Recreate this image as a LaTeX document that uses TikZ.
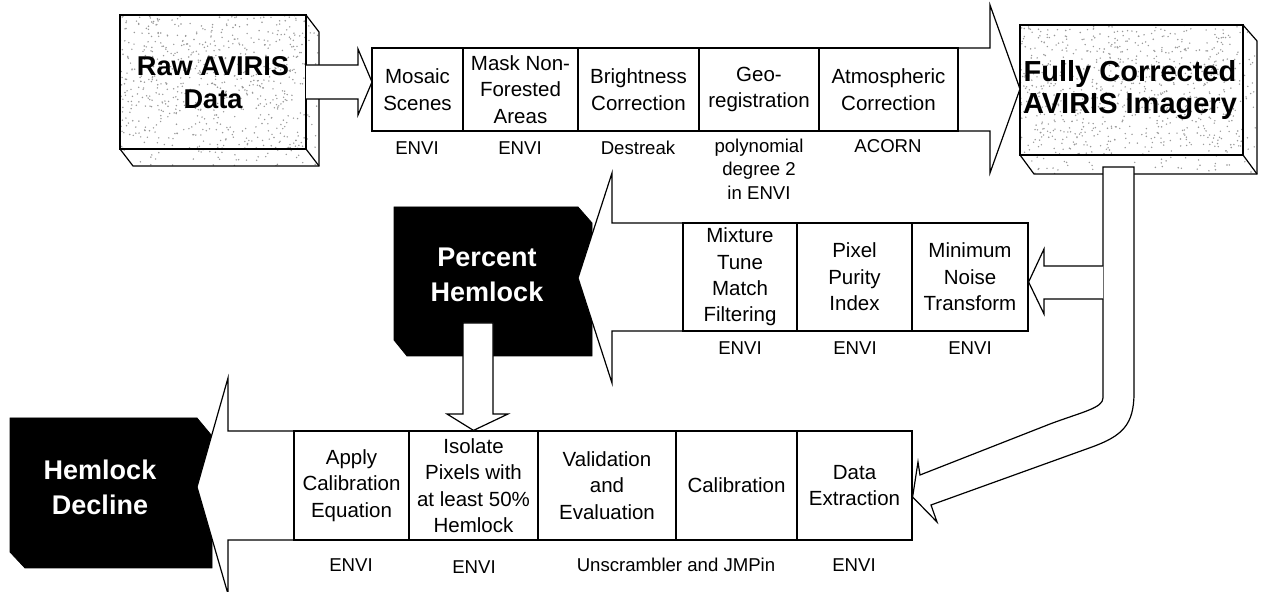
\documentclass[tikz,border=0pt]{standalone}
\usepackage{fontspec}
\setmainfont{Liberation Sans}
\newcommand\boxfont{\fontsize{10.25}{13.2}\selectfont}
\newcommand\labfont{\fontsize{9.3}{11.8}\selectfont}
\newcommand\rawfont{\bfseries\fontsize{13.6}{16.5}\selectfont}
\newcommand\fullfont{\bfseries\fontsize{14.5}{15.8}\selectfont}
\newcommand\wfont{\bfseries\fontsize{13.5}{17.5}\selectfont}
\tikzset{
  outl/.style={draw=black, line width=0.6pt, line join=miter},
  barrow/.style={outl, fill=white},
  proc/.style={draw=black, line width=0.6pt, fill=white, inner sep=0pt, align=center, font=\boxfont},
  lab/.style={inner sep=0pt, align=center, font=\labfont},
  blk/.style={fill=black, draw=black},
  wtxt/.style={text=white, align=center, font=\wfont, inner sep=0pt},
  speckdot/.style={fill=gray!80},
}
\newcommand\procnode[6]{%
  \pgfmathsetmacro\bw{(#3-#2)*0.5}%
  \pgfmathsetmacro\bh{(#5-#4)*0.5}%
  \node[proc, minimum width=\bw pt, minimum height=\bh pt] (#1) at ({(#2+#3)/2},{(#4+#5)/2}) {#6};}
\newcommand\speck[5]{%
  \foreach \i in {1,...,#5}{\fill[speckdot] ({#1+#3*rnd},{#2+#4*rnd}) circle (0.8);}}
\begin{document}
\begin{tikzpicture}[x=0.5pt,y=-0.5pt]
\pgfmathsetseed{11}
\useasboundingbox (0,0) rectangle (1265,592);

% ---------- Raw AVIRIS Data (3D box) ----------
\fill[white] (120,15) -- (306,15) -- (319,32) -- (319,166) -- (133,166) -- (120,149) -- cycle;
\begin{scope}
  \clip (120,15) rectangle (306,149);
  \speck{120}{15}{186}{134}{650}
\end{scope}
\begin{scope}
  \clip (306,15) -- (319,32) -- (319,166) -- (306,149) -- cycle;
  \speck{306}{15}{13}{151}{20}
\end{scope}
\begin{scope}
  \clip (120,149) -- (306,149) -- (319,166) -- (133,166) -- cycle;
  \speck{120}{149}{199}{17}{40}
\end{scope}
\draw[outl] (120,15) rectangle (306,149);
\draw[outl] (306,15) -- (319,32) -- (319,166) -- (133,166) -- (120,149);
\draw[outl] (306,149) -- (319,166);
\node[font=\rawfont, align=center, inner sep=0pt] (raw) at (213,83) {Raw AVIRIS\\Data};

% ---------- Fully Corrected AVIRIS Imagery (3D box) ----------
\fill[white] (1020,25) -- (1243,25) -- (1257,41) -- (1257,174) -- (1034,174) -- (1020,155) -- cycle;
\begin{scope}
  \clip (1020,25) rectangle (1243,155);
  \speck{1020}{25}{223}{130}{750}
\end{scope}
\begin{scope}
  \clip (1243,25) -- (1257,41) -- (1257,174) -- (1243,155) -- cycle;
  \speck{1243}{25}{14}{149}{20}
\end{scope}
\begin{scope}
  \clip (1020,155) -- (1243,155) -- (1257,174) -- (1034,174) -- cycle;
  \speck{1020}{155}{237}{19}{45}
\end{scope}
\draw[outl] (1020,25) rectangle (1243,155);
\draw[outl] (1243,25) -- (1257,41) -- (1257,174) -- (1034,174) -- (1020,155);
\draw[outl] (1243,155) -- (1257,174);
\node[font=\fullfont, align=center, inner sep=0pt] (full) at (1130,90) {Fully Corrected\\AVIRIS Imagery};

% ---------- top block arrows ----------
\draw[barrow] (372,48) -- (990,48) -- (990,5) -- (1020,89) -- (990,173) -- (990,131) -- (372,131) -- cycle;
\draw[barrow] (306,65) -- (358,65) -- (358,49) -- (372,82) -- (358,115) -- (358,99) -- (306,99);

\procnode{mosaic}{372}{463}{48}{131}{Mosaic\\Scenes}
\procnode{mask}{463}{578}{48}{131}{Mask Non-\\Forested\\Areas}
\procnode{bright}{578}{699}{48}{131}{Brightness\\Correction}
\procnode{geo}{699}{819}{48}{131}{Geo-\\registration}
\procnode{atmo}{819}{958}{48}{131}{Atmospheric\\Correction}

\node[lab] (l1) at (417,148) {ENVI};
\node[lab] (l2) at (520,148) {ENVI};
\node[lab] (l3) at (638,148) {Destreak};
\node[lab] (l4) at (759,169) {polynomial\\degree 2\\in ENVI};
\node[lab] (l5) at (888,146) {ACORN};

% ---------- Percent Hemlock ----------
\fill[blk] (394,207) -- (578,207) -- (592,223) -- (592,356) -- (407,356) -- (394,340) -- cycle;
\draw[barrow] (612,223) -- (1028,223) -- (1028,331) -- (612,331) -- (612,383) -- (578,278) -- (612,173) -- cycle;
\node[wtxt] (pct) at (487,275) {Percent\\Hemlock};

\procnode{mix}{683}{797}{223}{331}{Mixture\\Tune\\Match\\Filtering}
\procnode{ppi}{797}{912}{223}{331}{Pixel\\Purity\\Index}
\procnode{mnf}{912}{1028}{223}{331}{Minimum\\Noise\\Transform}

\node[lab] (m1) at (740,348) {ENVI};
\node[lab] (m2) at (855,348) {ENVI};
\node[lab] (m3) at (970,348) {ENVI};

% ---------- Hemlock Decline ----------
\fill[blk] (10,418) -- (197,418) -- (212,436) -- (212,568) -- (25,568) -- (10,552) -- cycle;
\draw[barrow] (912,431) -- (228,431) -- (228,378) -- (197,487) -- (228,594) -- (228,540) -- (912,540) -- cycle;
\node[wtxt] (hd) at (100,487) {Hemlock\\Decline};

\procnode{apply}{294}{409}{431}{540}{Apply\\Calibration\\Equation}
\procnode{iso}{409}{538}{431}{540}{Isolate\\Pixels with\\at least 50\%\\Hemlock}
\procnode{valid}{538}{676}{431}{540}{Validation\\and\\Evaluation}
\procnode{calib}{676}{797}{431}{540}{Calibration}
\procnode{dext}{797}{912}{431}{540}{Data\\Extraction}

\node[lab] (b1) at (351,565) {ENVI};
\node[lab] (b2) at (474,567) {ENVI};
\node[lab] (b3) at (676,565) {Unscrambler and JMPin};
\node[lab] (b4) at (854,565) {ENVI};

% ---------- down arrow Percent Hemlock -> Isolate ----------
\draw[barrow] (463,323) -- (493,323) -- (493,414) -- (508,414) -- (iso.north) -- (447,414) -- (463,414) -- cycle;

% ---------- curved arrow Fully Corrected -> Data Extraction ----------
\draw[barrow] (1103,167) -- (1134,167) -- (1134,393)
  .. controls (1134,425) and (1122,436) .. (1092,447) -- (931,505)
  -- (937,522) -- (dext.east |- 0,497) -- (918,462) -- (920,475)
  -- (1050,424) .. controls (1082,412) and (1103,408) .. (1103,398) -- cycle;

% ---------- branch arrow -> Minimum Noise Transform ----------
\draw[barrow] (1103,266) -- (1044,266) -- (1044,249) -- (mnf.east |- 0,282) -- (1044,314) -- (1044,299) -- (1103,299);
\end{tikzpicture}
\end{document}
